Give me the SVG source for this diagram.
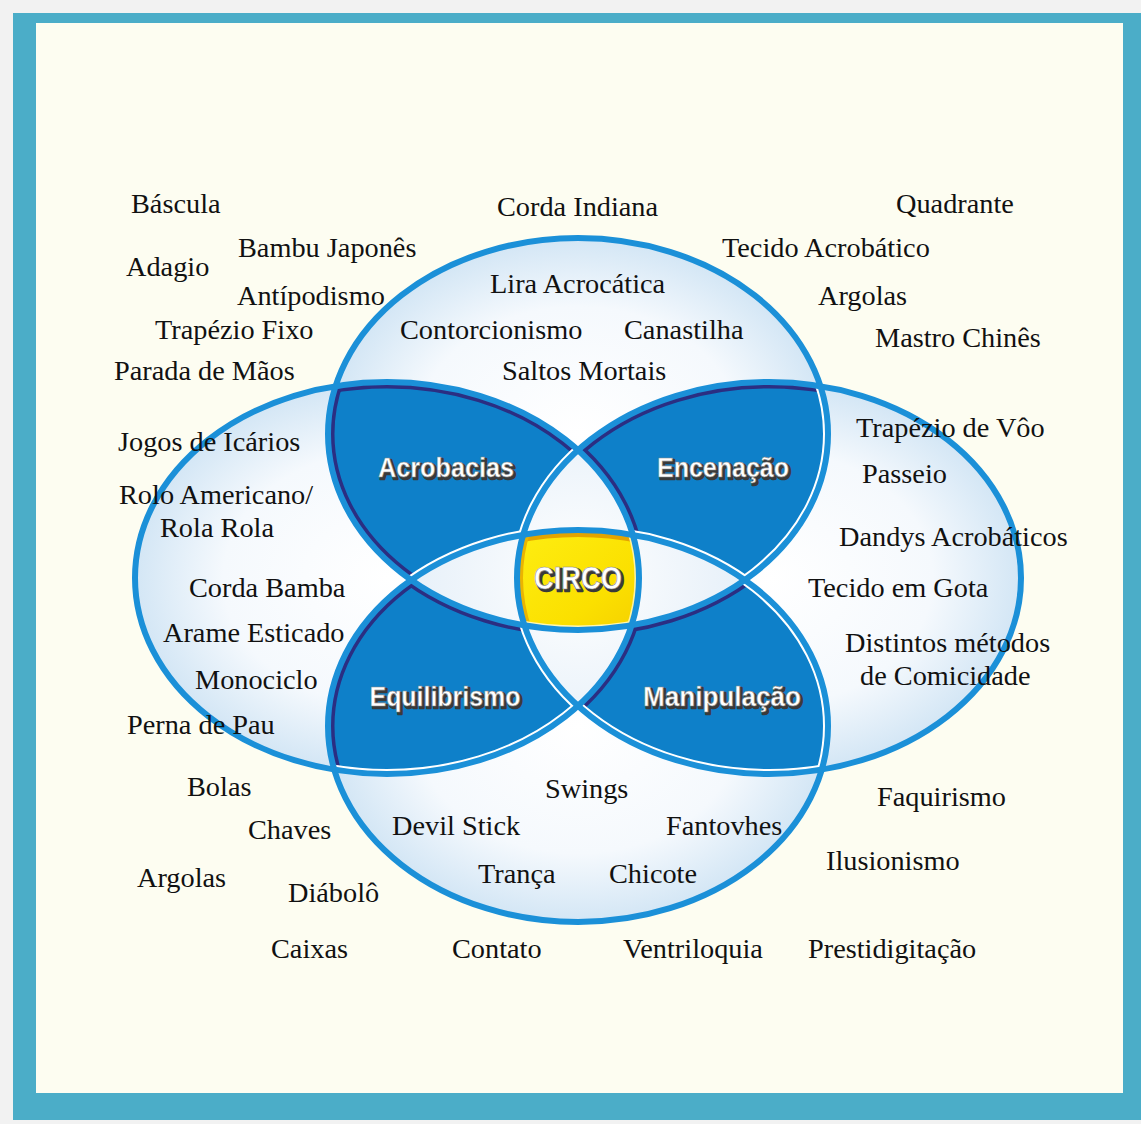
<svg xmlns="http://www.w3.org/2000/svg" xmlns:xlink="http://www.w3.org/1999/xlink" width="1141" height="1124" viewBox="0 0 1141 1124">
<style>
.t{font-family:"Liberation Serif","Times New Roman",serif;font-size:28.3px;fill:#111}
.lb{font-family:"Liberation Sans",Arial,sans-serif;font-weight:bold;font-size:28px;text-anchor:middle}
.lbs{fill:#3a3a3a;stroke:#3a3a3a;stroke-width:2.5;stroke-linejoin:round}
.lbw{fill:#fff;stroke:#8a8a8a;stroke-width:0.6}
.out{fill:none;stroke:#1b90d8;stroke-width:6}
.nv{fill:none;stroke:#2b2e82;stroke-width:13}
.wh{fill:none;stroke:#ffffff;stroke-width:10}
.dk{fill:#0e80c9}
</style>
<defs>
<ellipse id="eT" cx="578" cy="434" rx="250" ry="196"/>
<ellipse id="eB" cx="578" cy="726" rx="250" ry="196"/>
<ellipse id="eL" cx="387" cy="578" rx="252" ry="196"/>
<ellipse id="eR" cx="769" cy="578" rx="252" ry="196"/>
<clipPath id="cT"><use xlink:href="#eT"/></clipPath>
<clipPath id="cB"><use xlink:href="#eB"/></clipPath>
<clipPath id="cL"><use xlink:href="#eL"/></clipPath>
<clipPath id="cR"><use xlink:href="#eR"/></clipPath>
<radialGradient id="gE" cx="0.5" cy="0.5" r="0.5">
<stop offset="0" stop-color="#ffffff"/>
<stop offset="0.65" stop-color="#f5f9fd"/>
<stop offset="1" stop-color="#d3e6f5"/>
</radialGradient>
<radialGradient id="gLens" gradientUnits="userSpaceOnUse" cx="578" cy="578" r="190">
<stop offset="0" stop-color="#ffffff"/>
<stop offset="1" stop-color="#e3eef8"/>
</radialGradient>
<linearGradient id="gY" x1="0" y1="0" x2="1" y2="1">
<stop offset="0" stop-color="#fff41a"/>
<stop offset="0.6" stop-color="#fbe000"/>
<stop offset="1" stop-color="#f0c200"/>
</linearGradient>
</defs>

<g id="frame">
<rect width="1141" height="1124" fill="#f2f2f2"/>
<rect x="13" y="13" width="1128" height="1107" fill="#4badc8"/>
<rect x="36" y="23" width="1087" height="1070" fill="#fdfdf1"/>
</g>

<g id="sets">
<use xlink:href="#eT" fill="url(#gE)"/>
<use xlink:href="#eB" fill="url(#gE)"/>
<use xlink:href="#eL" fill="url(#gE)"/>
<use xlink:href="#eR" fill="url(#gE)"/>
</g>

<g id="acrobacias-area" clip-path="url(#cT)"><g clip-path="url(#cL)">
<rect x="100" y="200" width="900" height="800" class="dk"/>
<use xlink:href="#eT" class="nv"/><use xlink:href="#eL" class="nv"/>
<use xlink:href="#eB" class="wh"/><use xlink:href="#eR" class="wh"/>
</g></g>
<g id="encenacao-area" clip-path="url(#cT)"><g clip-path="url(#cR)">
<rect x="100" y="200" width="1000" height="800" class="dk"/>
<use xlink:href="#eR" class="nv"/><use xlink:href="#eL" class="nv"/>
<use xlink:href="#eT" class="wh"/><use xlink:href="#eB" class="wh"/>
</g></g>
<g id="equilibrismo-area" clip-path="url(#cB)"><g clip-path="url(#cL)">
<rect x="100" y="200" width="1000" height="800" class="dk"/>
<use xlink:href="#eB" class="nv"/><use xlink:href="#eT" class="nv"/>
<use xlink:href="#eR" class="wh"/><use xlink:href="#eL" class="wh"/>
</g></g>
<g id="manipulacao-area" clip-path="url(#cB)"><g clip-path="url(#cR)">
<rect x="100" y="200" width="1000" height="800" class="dk"/>
<use xlink:href="#eT" class="nv"/><use xlink:href="#eL" class="nv"/>
<use xlink:href="#eB" class="wh"/><use xlink:href="#eR" class="wh"/>
</g></g>

<g id="lenses">
<g clip-path="url(#cT)"><use xlink:href="#eB" fill="url(#gLens)"/></g>
<g clip-path="url(#cL)"><use xlink:href="#eR" fill="url(#gLens)"/></g>
</g>

<g id="circo-area" clip-path="url(#cT)"><g clip-path="url(#cB)"><g clip-path="url(#cL)"><g clip-path="url(#cR)">
<rect x="480" y="500" width="200" height="160" fill="url(#gY)"/>
<use xlink:href="#eB" fill="none" stroke="#e3a400" stroke-width="14"/>
<use xlink:href="#eR" fill="none" stroke="#ebb400" stroke-width="12"/>
<use xlink:href="#eT" fill="none" stroke="#fff7b0" stroke-width="9"/>
<use xlink:href="#eL" fill="none" stroke="#fff2a0" stroke-width="9"/>
</g></g></g></g>

<g id="outlines">
<use xlink:href="#eT" class="out"/>
<use xlink:href="#eB" class="out"/>
<use xlink:href="#eL" class="out"/>
<use xlink:href="#eR" class="out"/>
</g>

<g id="label-acrobacias" class="lb">
<text x="448" y="479" class="lbs" textLength="136" lengthAdjust="spacingAndGlyphs">Acrobacias</text>
<text x="446" y="477" class="lbw" textLength="136" lengthAdjust="spacingAndGlyphs">Acrobacias</text>
</g>
<g id="label-encenacao" class="lb">
<text x="725" y="479" class="lbs" textLength="132" lengthAdjust="spacingAndGlyphs">Encenação</text>
<text x="723" y="477" class="lbw" textLength="132" lengthAdjust="spacingAndGlyphs">Encenação</text>
</g>
<g id="label-equilibrismo" class="lb">
<text x="447" y="708" class="lbs" textLength="151" lengthAdjust="spacingAndGlyphs">Equilibrismo</text>
<text x="445" y="706" class="lbw" textLength="151" lengthAdjust="spacingAndGlyphs">Equilibrismo</text>
</g>
<g id="label-manipulacao" class="lb">
<text x="724" y="708" class="lbs" textLength="158" lengthAdjust="spacingAndGlyphs">Manipulação</text>
<text x="722" y="706" class="lbw" textLength="158" lengthAdjust="spacingAndGlyphs">Manipulação</text>
</g>
<g id="label-circo" class="lb">
<text x="580" y="591" class="lbs" font-size="31" textLength="88" lengthAdjust="spacingAndGlyphs">CIRCO</text>
<text x="578" y="589" class="lbw" font-size="31" textLength="88" lengthAdjust="spacingAndGlyphs">CIRCO</text>
</g>

<g id="items">
<text class="t" x="131" y="213">Báscula</text>
<text class="t" x="497" y="216">Corda Indiana</text>
<text class="t" x="896" y="213">Quadrante</text>
<text class="t" x="238" y="257">Bambu Japonês</text>
<text class="t" x="722" y="257">Tecido Acrobático</text>
<text class="t" x="126" y="276">Adagio</text>
<text class="t" x="490" y="293">Lira Acrocática</text>
<text class="t" x="237" y="305">Antípodismo</text>
<text class="t" x="818" y="305">Argolas</text>
<text class="t" x="155" y="339">Trapézio Fixo</text>
<text class="t" x="400" y="339">Contorcionismo</text>
<text class="t" x="624" y="339">Canastilha</text>
<text class="t" x="875" y="347">Mastro Chinês</text>
<text class="t" x="114" y="380">Parada de Mãos</text>
<text class="t" x="502" y="380">Saltos Mortais</text>
<text class="t" x="856" y="437">Trapézio de Vôo</text>
<text class="t" x="118" y="451">Jogos de Icários</text>
<text class="t" x="862" y="483">Passeio</text>
<text class="t" x="119" y="504">Rolo Americano/</text>
<text class="t" x="160" y="537">Rola Rola</text>
<text class="t" x="839" y="546">Dandys Acrobáticos</text>
<text class="t" x="189" y="597">Corda Bamba</text>
<text class="t" x="808" y="597">Tecido em Gota</text>
<text class="t" x="163" y="642">Arame Esticado</text>
<text class="t" x="845" y="652">Distintos métodos</text>
<text class="t" x="860" y="685">de Comicidade</text>
<text class="t" x="195" y="689">Monociclo</text>
<text class="t" x="127" y="734">Perna de Pau</text>
<text class="t" x="187" y="796">Bolas</text>
<text class="t" x="545" y="798">Swings</text>
<text class="t" x="877" y="806">Faquirismo</text>
<text class="t" x="248" y="839">Chaves</text>
<text class="t" x="392" y="835">Devil Stick</text>
<text class="t" x="666" y="835">Fantovhes</text>
<text class="t" x="826" y="870">Ilusionismo</text>
<text class="t" x="137" y="887">Argolas</text>
<text class="t" x="478" y="883">Trança</text>
<text class="t" x="609" y="883">Chicote</text>
<text class="t" x="288" y="902">Diábolô</text>
<text class="t" x="271" y="958">Caixas</text>
<text class="t" x="452" y="958">Contato</text>
<text class="t" x="623" y="958">Ventriloquia</text>
<text class="t" x="808" y="958">Prestidigitação</text>
</g>
</svg>
